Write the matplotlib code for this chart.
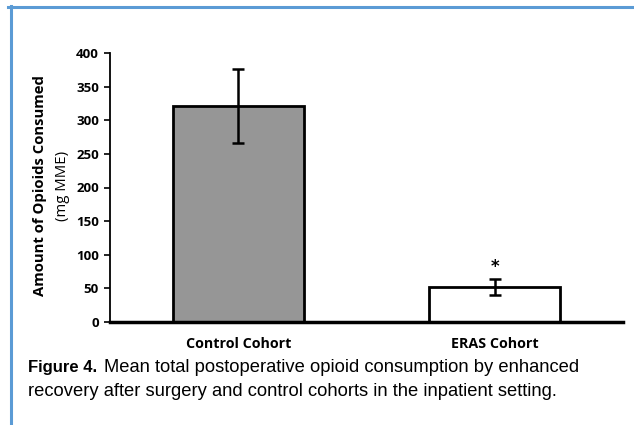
import matplotlib.pyplot as plt
from matplotlib.lines import Line2D

# data
cohorts = ['Control Cohort', 'ERAS Cohort']
means = [321, 52]
errors = [55, 12]
colors = ['#969696', 'white']
yticks = [0, 50, 100, 150, 200, 250, 300, 350, 400]

fig = plt.figure(figsize=(6.34, 4.25), dpi=100)
W, H = 634, 425
ax = fig.add_axes([110 / W, 1 - 322 / H, 513 / W, 269 / H])

x = list(range(len(cohorts)))
ax.bar(x, means, width=0.51, color=colors, edgecolor='black', linewidth=2, zorder=2)
ax.errorbar(x, means, yerr=errors, fmt='none', ecolor='black', elinewidth=1.8,
            capsize=4, capthick=1.8, zorder=3)

# significance marker over ERAS
ax.annotate('*', (1, means[1] + errors[1]), xytext=(0, 2), textcoords='offset points',
            ha='center', va='bottom', fontsize=12, fontweight='bold', family='DejaVu Sans')

ax.set_xlim(-0.5, 1.5)
ax.set_ylim(0, 400)
ax.set_yticks(yticks)
ax.set_yticklabels([str(v) for v in yticks], fontsize=9.5, fontweight='bold', family='Open Sans')
ax.set_xticks(x)
ax.set_xticklabels(cohorts, fontsize=10.3, fontweight='bold', family='Open Sans')
ax.tick_params(axis='x', length=0, pad=11)
ax.tick_params(axis='y', length=4, width=1.2, pad=4)

for s in ['top', 'right']:
    ax.spines[s].set_visible(False)
ax.spines['left'].set_linewidth(1.3)
ax.spines['bottom'].set_linewidth(2.5)

# y label in two lines, first bold
fig.text(40 / W, 1 - 186 / H, 'Amount of Opioids Consumed', rotation=90, ha='center', va='center',
         fontsize=10.7, fontweight='bold', family='Open Sans')
fig.text(62 / W, 1 - 186 / H, '(mg MME)', rotation=90, ha='center', va='center',
         fontsize=10.7, family='Open Sans')

# caption
fig.text(28 / W, 1 - 372 / H, 'Figure 4.', fontsize=12, fontweight='bold',
         family='Liberation Sans', va='baseline')
fig.text(104 / W, 1 - 372 / H, 'Mean total postoperative opioid consumption by enhanced',
         fontsize=13.2, family='Liberation Sans', va='baseline')
fig.text(28 / W, 1 - 396 / H, 'recovery after surgery and control cohorts in the inpatient setting.',
         fontsize=13.2, family='Liberation Sans', va='baseline')

# blue frame lines at top and left
fig.add_artist(Line2D([8 / W, 633 / W], [1 - 7 / H, 1 - 7 / H], color='#5b9bd5', linewidth=2.2))
fig.add_artist(Line2D([11 / W, 11 / W], [1 - 6 / H, 0], color='#5b9bd5', linewidth=2.2))

fig.savefig('out.png', dpi=100)
